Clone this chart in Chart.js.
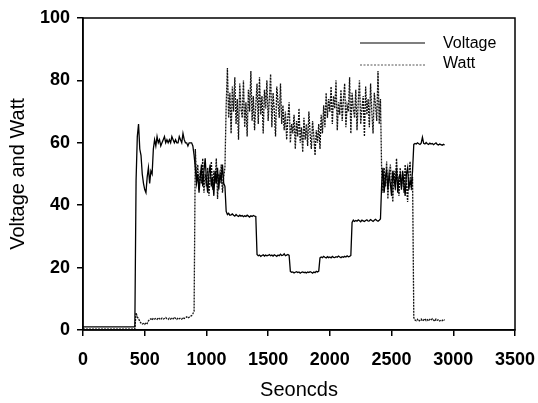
<!DOCTYPE html>
<html>
<head>
<meta charset="utf-8">
<script src="https://cdn.jsdelivr.net/npm/chart.js@4/dist/chart.umd.min.js"></script>
<style>
  html, body { margin: 0; padding: 0; background: #fff; }
  #wrap { width: 538px; height: 403px; }
</style>
</head>
<body>
<div id="wrap"><canvas id="grafico" width="538" height="403"></canvas></div>
<script>
// ---------------------------------------------------------
// Data (one sample every 10 s, 0..2930 s)
// ---------------------------------------------------------
const SAMPLE_STEP = 10;

const voltage = [
  1, 1, 1, 1, 1, 1, 1, 1, 1, 1,
  1, 1, 1, 1, 1, 1, 1, 1, 1, 1,
  1, 1, 1, 1, 1, 1, 1, 1, 1, 1,
  1, 1, 1, 1, 1, 1, 1, 1, 1, 1,
  1, 1, 1, 48, 62, 66, 58, 56, 50, 47,
  45, 44, 49, 52, 47, 51, 50, 58, 61, 59,
  62, 60, 61, 59, 60, 61, 62, 60, 61, 60,
  61, 60, 62, 61, 60, 61, 60, 60, 62, 61,
  60, 63, 61, 60, 60, 59, 60, 60, 60, 59,
  56, 52, 47, 50, 44, 49, 53, 46, 51, 55,
  48, 44, 50, 53, 46, 49, 43, 51, 47, 52,
  45, 50, 48, 53, 47, 46, 38, 37, 37.4, 36.8,
  36.9, 37.2, 36.8, 36.5, 37, 36.6, 36.4, 36.8, 36.5, 36.7,
  36.3, 36.6, 36.4, 36.8, 36.5, 36.2, 36.6, 36.4, 36.7, 36.5,
  36.4, 24.2, 23.8, 24, 23.6, 23.9, 24.1, 23.7, 24, 23.8,
  23.9, 24.2, 23.8, 24, 23.7, 24.1, 23.9, 23.6, 24, 23.8,
  24.3, 23.9, 24, 24.4, 23.8, 24, 24.2, 23.9, 18.8, 18.5,
  18.6, 18.3, 18.5, 18.7, 18.4, 18.6, 18.2, 18.5, 18.6, 18.4,
  18.5, 18.3, 18.6, 18.4, 18.7, 18.5, 18.2, 18.6, 18.4, 18.8,
  18.6, 18.9, 23.1, 23.4, 23.2, 23.6, 23.3, 23.1, 23.5, 23.2,
  23.4, 23.1, 23.6, 23.3, 23.2, 23.5, 23.3, 23.7, 23.4, 23.2,
  23.5, 23.3, 23.6, 23.4, 23.8, 23.5, 23.6, 23.9, 34.5, 35.2,
  34.8, 35.1, 34.9, 35.3, 35, 34.7, 35.2, 35, 34.8, 35.1,
  35.3, 34.9, 35, 35.4, 35.1, 34.8, 35.2, 35.5, 35.1, 34.9,
  35.2, 35.6, 47, 52, 44, 49, 51, 45, 50, 47,
  43, 51, 48, 46, 52, 44, 49, 50, 45, 51,
  47, 43, 50, 52, 45, 48, 46, 51, 59.5, 59.8,
  59.6, 60, 59.7, 59.5, 59.9, 61.8, 59.8, 59.6, 60.1, 59.7,
  59.5, 59.9, 59.6, 59.8, 59.4, 59.7, 60, 59.5, 59.3, 59.6,
  59.4, 59.2, 59.5, 59.3
];

const watt = [
  0.3, 0.3, 0.3, 0.3, 0.3, 0.3, 0.3, 0.3, 0.3, 0.3,
  0.3, 0.3, 0.3, 0.3, 0.3, 0.3, 0.3, 0.3, 0.3, 0.3,
  0.3, 0.3, 0.3, 0.3, 0.3, 0.3, 0.3, 0.3, 0.3, 0.3,
  0.3, 0.3, 0.3, 0.3, 0.3, 0.3, 0.3, 0.3, 0.3, 0.3,
  0.3, 0.3, 0.3, 5.5, 4.2, 3.6, 2.8, 2.2, 1.9, 2.1,
  1.8, 2.4, 2.1, 2.9, 3.4, 3.6, 3.2, 3.8, 3.5, 3.7,
  3.4, 3.9, 3.6, 3.3, 3.8, 3.5, 3.7, 4, 3.6, 3.4,
  3.8, 3.5, 3.9, 3.6, 4.1, 3.7, 3.4, 3.9, 3.6, 3.8,
  3.5, 4, 3.7, 3.9, 4.2, 3.8, 4.1, 4.4, 4.6, 5.2,
  6, 58, 49, 53, 45, 51, 47, 55, 44, 50,
  46, 52, 43, 49, 54, 45, 51, 47, 55, 42,
  50, 47, 53, 44, 49, 52, 72, 84, 68, 76,
  63, 78, 70, 81, 66, 74, 61, 79, 71, 68,
  80, 65, 73, 62, 77, 70, 83, 67, 75, 64,
  72, 79, 66, 81, 69, 75, 63, 77, 71, 80,
  67, 74, 82, 65, 76, 70, 62, 78, 73, 68,
  79, 66, 72, 64, 70, 61, 68, 73, 60, 66,
  63, 69, 58, 67, 62, 71, 60, 65, 57, 68,
  61, 66, 59, 70, 63, 58, 67, 62, 56, 64,
  60, 66, 58, 69, 63, 72, 65, 76, 68, 74,
  70, 78, 66, 75, 71, 80, 64, 73, 69, 77,
  67, 74, 79, 65, 72, 70, 81, 63, 76, 71,
  68, 77, 64, 73, 80, 66, 71, 75, 62, 78,
  69, 74, 65, 79, 70, 63, 76, 72, 67, 83,
  66, 74, 50, 44, 52, 46, 54, 42, 49, 53,
  47, 41, 51, 45, 55, 48, 43, 52, 46, 50,
  44, 53, 47, 41, 50, 54, 45, 49, 4, 3.2,
  3, 3.4, 2.8, 3.1, 3.5, 2.9, 3.2, 3.6, 3, 3.3,
  2.9, 3.4, 3.1, 3.6, 3.2, 2.8, 3.5, 3.1, 3.3, 2.9,
  3.2, 3, 3.4, 3.1
];

const seriesNames = ['Voltage', 'Watt'];
const xTicks = [0, 500, 1000, 1500, 2000, 2500, 3000, 3500];
const yTicks = [0, 20, 40, 60, 80, 100];

// time axis (seconds) for each sample
const seconds = voltage.map((_, i) => i * SAMPLE_STEP);

const FONT = "'Liberation Sans', Arial, sans-serif";

// ---------------------------------------------------------
// Plugin: box around plot area + legend inside the plot
// ---------------------------------------------------------
const frameAndLegend = {
  id: 'frameAndLegend',
  afterDatasetsDraw(chart) {
    const { ctx, chartArea: a } = chart;
    ctx.save();
    ctx.strokeStyle = '#000';
    ctx.lineWidth = 1.5;
    ctx.strokeRect(a.left, a.top, a.right - a.left, a.bottom - a.top);

    // legend
    ctx.font = '16px ' + FONT;
    ctx.fillStyle = '#000';
    ctx.textBaseline = 'middle';

    ctx.beginPath();
    ctx.moveTo(360, 43);
    ctx.lineTo(425, 43);
    ctx.lineWidth = 1.2;
    ctx.strokeStyle = '#000';
    ctx.setLineDash([]);
    ctx.stroke();
    ctx.fillText(seriesNames[0], 443, 44);

    ctx.beginPath();
    ctx.moveTo(360, 65);
    ctx.lineTo(425, 65);
    ctx.lineWidth = 1;
    ctx.strokeStyle = '#555';
    ctx.setLineDash([2, 1.5]);
    ctx.stroke();
    ctx.setLineDash([]);
    ctx.fillText(seriesNames[1], 443, 64);
    ctx.restore();
  }
};

new Chart(document.getElementById('grafico'), {
  type: 'line',
  data: {
    datasets: [
      {
        label: seriesNames[0],
        data: seconds.map((t, i) => ({ x: t, y: voltage[i] })),
        borderColor: '#000',
        borderWidth: 1.3,
        pointRadius: 0,
        tension: 0,
        order: 0
      },
      {
        label: seriesNames[1],
        data: seconds.map((t, i) => ({ x: t, y: watt[i] })),
        borderColor: '#111',
        borderWidth: 1.3,
        borderDash: [2, 1],
        pointRadius: 0,
        tension: 0,
        order: 1
      }
    ]
  },
  options: {
    responsive: false,
    animation: false,
    devicePixelRatio: 1,
    layout: { padding: { top: 18, right: 23, left: 0, bottom: 0 } },
    plugins: {
      legend: { display: false },
      tooltip: { enabled: false }
    },
    scales: {
      x: {
        type: 'linear',
        min: 0,
        max: 3500,
        afterBuildTicks: (scale) => { scale.ticks = xTicks.map(v => ({ value: v })); },
        afterFit: (scale) => {
          scale.height = 73;
          scale.paddingLeft = 0;
          scale.paddingRight = 0;
        },
        ticks: {
          color: '#000',
          font: { family: FONT, size: 18, weight: 'bold' },
          padding: 13,
          maxRotation: 0,
          callback: (v) => String(v)
        },
        grid: { drawOnChartArea: false, color: '#000', tickLength: 6, lineWidth: 1.5 },
        border: { display: true, color: '#000', width: 1.5 },
        title: {
          display: true,
          text: 'Seoncds',
          color: '#000',
          font: { family: FONT, size: 20 },
          padding: { top: 0, bottom: 1 }
        }
      },
      y: {
        min: 0,
        max: 100,
        afterBuildTicks: (scale) => { scale.ticks = yTicks.map(v => ({ value: v })); },
        afterFit: (scale) => {
          scale.width = 83;
          scale.paddingTop = 0;
          scale.paddingBottom = 0;
        },
        ticks: {
          color: '#000',
          font: { family: FONT, size: 18, weight: 'bold' },
          padding: 7,
          callback: (v) => String(v)
        },
        grid: { drawOnChartArea: false, color: '#000', tickLength: 6, lineWidth: 1.5 },
        border: { display: true, color: '#000', width: 1.5 },
        title: {
          display: true,
          text: 'Voltage and Watt',
          color: '#000',
          font: { family: FONT, size: 20 },
          padding: { top: 6, bottom: 0 }
        }
      }
    }
  },
  plugins: [frameAndLegend]
});
</script>
</body>
</html>
